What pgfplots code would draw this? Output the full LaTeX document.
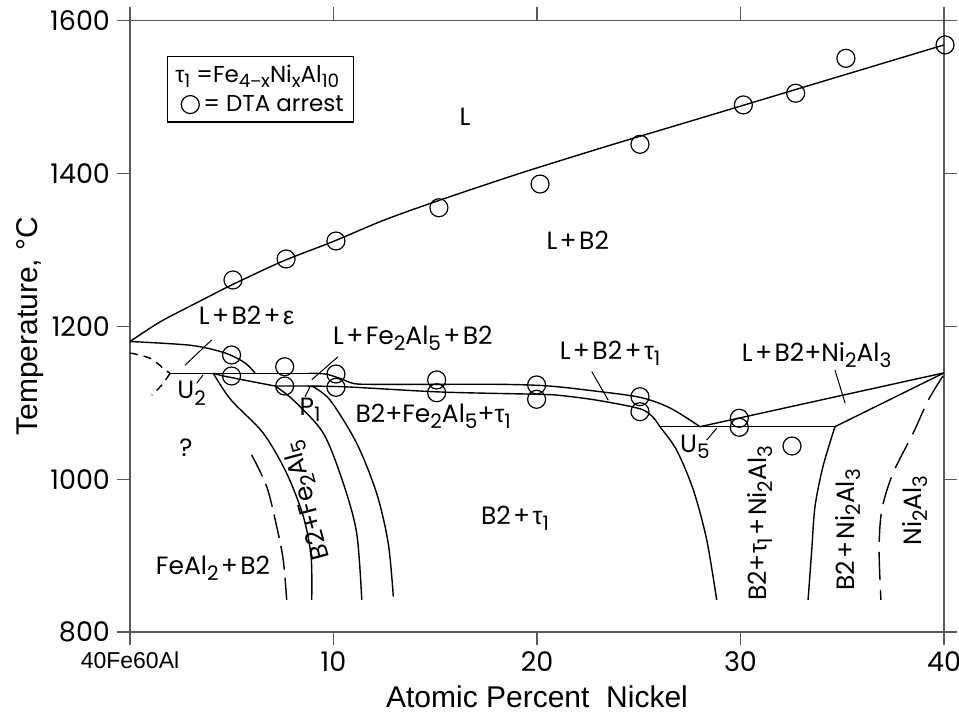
\documentclass[border=0pt]{standalone}
\usepackage{fontspec}
\setmainfont{Liberation Sans}
\newfontfamily\geo{Poppins}
\newfontfamily\lib{Liberation Sans}
\usepackage{graphicx}
\usepackage{pgfplots}
\pgfplotsset{compat=1.18}
% lowered, smaller subscript in the current text font
\newcommand{\s}[1]{\raisebox{-0.45ex}{\scalebox{0.8}{#1}}}
\newcommand{\tauu}{{\lib τ}}
\newcommand{\pl}{\kern1.2pt+\kern1.2pt}
\tikzset{lab/.style={font=\geo\fontsize{12.5}{14}\selectfont, inner sep=0pt}}

\begin{document}
\begin{tikzpicture}
\begin{axis}[
  width=407pt, height=305.75pt, scale only axis,
  xmin=0, xmax=40, ymin=800, ymax=1600,
  xtick={0,10,20,30,40},
  xticklabels={{\lib\fontsize{11.5}{13}\selectfont 40Fe60Al},10,20,30,40},
  ytick={800,1000,1200,1400,1600},
  tick align=outside,
  major tick length=6.5pt,
  axis line style={black!65, line width=0.6pt},
  tick style={black!65, line width=0.6pt},
  ticklabel style={font=\geo\fontsize{13.5}{15}\selectfont},
  /pgf/number format/assume math mode=true,
  /pgf/number format/1000 sep={},
  xlabel={Atomic Percent\ \ Nickel},
  ylabel={Temperature, °C},
  label style={font=\lib\fontsize{15}{18}\selectfont},
  ylabel style={yshift=-3.5pt},
  clip=false,
  every axis plot/.append style={black, line width=0.7pt},
  legend style={at={(0.045,0.942)}, anchor=north west, draw=black,
    line width=0.6pt, font=\geo\fontsize{11.5}{14}\selectfont,
    inner xsep=3pt, inner ysep=2pt, row sep=1pt},
  legend cell align=left,
]
\addlegendimage{empty legend}
\addlegendentry{\hspace*{-14pt}\tauu\s{1} =Fe\s{4{\lib −}x}Ni\s{x}Al\s{10}}
\addlegendimage{only marks, mark=o, mark size=4.5pt, line width=0.6pt}
\addlegendentry{= DTA arrest}

% liquidus
\addplot[smooth, forget plot] coordinates {
  (0,1180) (1.5,1206) (3.52,1234) (5,1254) (7.5,1285) (10,1311) (12.5,1339)
  (15.23,1365) (19.16,1400) (23.5,1436) (28.01,1472) (34,1520) (40,1568)};

% L+B2+eps upper boundary
\addplot[smooth, forget plot] coordinates {
  (0,1180) (3.0,1175) (4.67,1165) (5.65,1152) (6.15,1138.5)};

% U2 line continuing to U5
\addplot[forget plot] coordinates {(1.97,1138.5) (8.8,1138.5)};
\addplot[smooth, forget plot] coordinates {
  (8.8,1138.5) (9.6,1137.5) (10.3,1132) (11.0,1125) (12,1124) (15,1124)
  (18.2,1124) (20.5,1122) (22.6,1116) (25.06,1107) (26.54,1093) (28.01,1068.6)};

% P1 line continuing to U5 and down
\addplot[smooth, forget plot] coordinates {
  (7.13,1121.8) (10.32,1121) (15.23,1114) (19.98,1111) (21.13,1109.5)
  (23,1103) (25.06,1092) (25.7,1081) (26.04,1068.6) (26.86,1038)
  (27.68,986) (28.34,920.4) (28.83,841.9)};

% U2 to P1
\addplot[smooth, forget plot] coordinates {
  (4.09,1138.5) (4.67,1134.5) (6.3,1126) (7.13,1121.8)};

% left dashed near U2
\addplot[smooth, dash pattern=on 4pt off 3pt, forget plot] coordinates {
  (0,1165) (1.0,1158) (1.72,1143) (1.97,1138.5)};
\addplot[smooth, dash pattern=on 4pt off 3pt, forget plot] coordinates {
  (1.97,1138.5) (1.56,1123) (1.07,1110)};

% B2+Fe2Al5 region curves
\addplot[smooth, forget plot] coordinates {
  (4.09,1138.5) (4.95,1104) (6.55,1060) (7.70,1007.6) (8.52,950.9)
  (8.9,898.5) (8.93,841.9)};
\addplot[smooth, forget plot] coordinates {
  (7.13,1121.8) (8.02,1103.5) (9.50,1060) (10.48,994.6) (11.14,929.2)
  (11.39,841.9)};
\addplot[smooth, forget plot] coordinates {
  (8.93,1121.8) (9.83,1103.5) (11.14,1046.9) (12.12,981.5) (12.69,916.1)
  (12.94,846.2)};
\addplot[smooth, dash pattern=on 12pt off 4pt, forget plot] coordinates {
  (5.98,1031.6) (6.72,990.1) (7.21,937.8) (7.53,894.2) (7.70,841.9)};

% U5 region
\addplot[forget plot] coordinates {(26.04,1068.6) (34.64,1068.6)};
\addplot[forget plot] coordinates {(28.01,1068.6) (40,1139)};
\addplot[forget plot] coordinates {(34.64,1068.6) (40,1139)};
\addplot[smooth, forget plot] coordinates {
  (34.64,1068.6) (34.05,1016.3) (33.66,964) (33.5,907.3) (33.32,841.9)};
\addplot[smooth, dash pattern=on 14pt off 5pt, forget plot] coordinates {
  (39.95,1135) (39.23,1103.5) (38.48,1060) (37.49,1007.6) (36.94,959.6)
  (36.81,907.3) (36.9,841.9)};

% leader lines
\addplot[line width=0.5pt, forget plot] coordinates {(4.01,1182) (2.70,1149)};
\addplot[line width=0.5pt, forget plot] coordinates {(10.22,1160) (8.93,1130)};
\addplot[line width=0.5pt, forget plot] coordinates {(3.59,1136.3) (3.28,1125.4)};
\addplot[line width=0.5pt, forget plot] coordinates {(8.85,1121) (8.6,1107.8)};
\addplot[line width=0.5pt, forget plot] coordinates {(22.69,1140.6) (23.5,1103.3)};
\addplot[line width=0.5pt, forget plot] coordinates {(34.64,1142.8) (35.14,1099.2)};
\addplot[line width=0.5pt, forget plot] coordinates {(28.83,1066.5) (28.34,1051.2)};

% DTA arrests
\addplot[only marks, mark=o, mark size=4.5pt, line width=0.6pt, forget plot] coordinates {
  (5.06,1260.5) (7.67,1288) (10.12,1311.5) (15.18,1355) (20.15,1386)
  (25.06,1438) (30.14,1489.5) (32.71,1504.8) (35.18,1550.5) (40.05,1568)
  (4.99,1162.4) (4.99,1134.9) (7.6,1147) (7.6,1121.8) (10.12,1137.5)
  (10.12,1120.1) (15.07,1129.7) (15.07,1113) (19.98,1123.2) (19.98,1104.4)
  (25.06,1107.8) (25.06,1088.2) (29.94,1079.6) (29.94,1067.8) (32.53,1043.3)};

% region labels
\node[lab] at (axis cs:16.46,1473.8) {L};
\node[lab] at (axis cs:22.0,1312.8) {L\pl B2};
\node[lab] at (axis cs:5.73,1214.7) {L\pl B2\pl{\lib ε}};
\node[lab] at (axis cs:13.9,1184.6) {L\pl Fe\s{2}Al\s{5}\pl B2};
\node[lab] at (axis cs:3.03,1112.3) {U\s{2}};
\node[lab] at (axis cs:8.85,1090.5) {P\s{1}};
\node[lab] at (axis cs:14.9,1081.7) {B2+Fe\s{2}Al\s{5}+\tauu\s{1}};
\node[lab] at (axis cs:2.75,1040.7) {?};
\node[lab] at (axis cs:4.08,883.4) {FeAl\s{2}\pl B2};
\node[lab, rotate=105] at (axis cs:8.75,972.7) {B2+Fe\s{2}Al\s{5}};
\node[lab] at (axis cs:18.92,948.8) {B2\pl\tauu\s{1}};
\node[lab] at (axis cs:23.59,1164.6) {L\pl B2\pl\tauu\s{1}};
\node[lab] at (axis cs:33.74,1162.4) {L\pl B2+Ni\s{2}Al\s{3}};
\node[lab] at (axis cs:27.76,1042.5) {U\s{5}};
\node[lab, rotate=90] at (axis cs:30.96,942.2) {B2+\tauu\s{1}\pl Ni\s{2}Al\s{3}};
\node[lab, rotate=90] at (axis cs:35.3,933.5) {B2\pl Ni\s{2}Al\s{3}};
\node[lab, rotate=90] at (axis cs:38.57,959) {Ni\s{2}Al\s{3}};

% canvas of the reference
\coordinate (bbA) at (rel axis cs:-0.1597,-0.1292);
\coordinate (bbB) at (rel axis cs:1.0184,1.0335);
\end{axis}
\pgfresetboundingbox
\path (bbA) rectangle (bbB);
\end{tikzpicture}
\end{document}
